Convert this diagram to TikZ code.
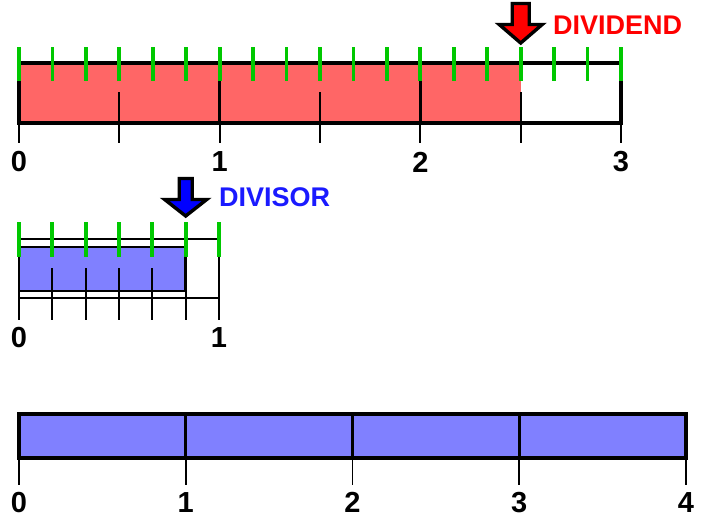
\documentclass[tikz,border=0pt]{standalone}
\usepackage{fontspec}
\setmainfont{Liberation Sans}
\definecolor{redfill}{HTML}{FF6666}
\definecolor{bluefill}{HTML}{8080FF}
\definecolor{tickgreen}{HTML}{00C800}
\definecolor{redtext}{HTML}{FF0000}
\definecolor{bluetext}{HTML}{1A1AFF}
\begin{document}
\begin{tikzpicture}[x=1pt,y=-1pt,
  thickline/.style={draw=black,line width=3.3pt},
  thinline/.style={draw=black,line width=1.9pt},
  gtick/.style={draw=tickgreen,line width=3.8pt},
  num/.style={font=\fontsize{29}{29}\selectfont\bfseries,inner sep=0pt},
  lbl/.style={font=\fontsize{27}{27}\selectfont\bfseries,inner sep=0pt,anchor=west},
  pointer/.style={draw=black,line width=3.4pt,line join=miter}]
\useasboundingbox (0,0) rectangle (709,522);

% ---------------- dividend bar ----------------
\fill[redfill] (19,63) rectangle (520.7,123);
\draw[thickline] (19,63) rectangle (621,123);
\foreach \i in {0,1,2,3}{
  \draw[thickline] ({19+200.67*\i},81) -- ({19+200.67*\i},123);
  \draw[thinline] ({19+200.67*\i},123) -- ({19+200.67*\i},143);
}
\foreach \i in {0.5,1.5,2.5}{
  \draw[thinline] ({19+200.67*\i},92) -- ({19+200.67*\i},143);
}
\foreach \k in {0,...,18}{
  \draw[gtick] ({19+200.67*\k/6},47) -- ({19+200.67*\k/6},81);
}
\foreach \i in {0,1,2,3}{
  \node[num] (a\i) at ({19+200.67*\i},162) {\i};
}
\def\cx{520.7}
\draw[pointer,fill=red] (\cx-8.5,3.5) -- (\cx+8.5,3.5) -- (\cx+8.5,24.5) -- (\cx+21.5,24.5)
  -- (\cx,43) -- (\cx-21.5,24.5) -- (\cx-8.5,24.5) -- cycle;
\node[lbl,text=redtext] (dividend) at (553,25.5) {DIVIDEND};

% ---------------- divisor bar ----------------
\draw[thickline,fill=white,line width=2.8pt] (19,239) rectangle (219,298);
\draw[thickline,fill=bluefill,line width=2.8pt] (19,247) rectangle (185.7,291);
\foreach \k in {1,...,5}{
  \draw[thinline] ({19+200*\k/6},268) -- ({19+200*\k/6},320);
}
\foreach \k in {0,1}{
  \draw[thinline] ({19+200*\k},298) -- ({19+200*\k},320);
}
\foreach \k in {0,...,6}{
  \draw[gtick] ({19+200*\k/6},222) -- ({19+200*\k/6},257);
}
\foreach \i in {0,1}{
  \node[num] (b\i) at ({19+200*\i},338) {\i};
}
\def\dx{185.7}
\draw[pointer,fill=blue] (\dx-6.5,178.5) -- (\dx+6.5,178.5) -- (\dx+6.5,199.5) -- (\dx+21,199.5)
  -- (\dx,216) -- (\dx-21,199.5) -- (\dx-6.5,199.5) -- cycle;
\node[lbl,text=bluetext] (divisor) at (219,197.5) {DIVISOR};

% ---------------- quotient bar ----------------
\draw[thickline,fill=bluefill] (19,414) rectangle (686,458);
\foreach \k in {1,2,3}{
  \draw[thickline] ({19+166.75*\k},414) -- ({19+166.75*\k},458);
}
\foreach \k in {0,...,4}{
  \draw[thinline] ({19+166.75*\k},458) -- ({19+166.75*\k},485);
  \node[num] (c\k) at ({19+166.75*\k},502.5) {\k};
}
\end{tikzpicture}
\end{document}
